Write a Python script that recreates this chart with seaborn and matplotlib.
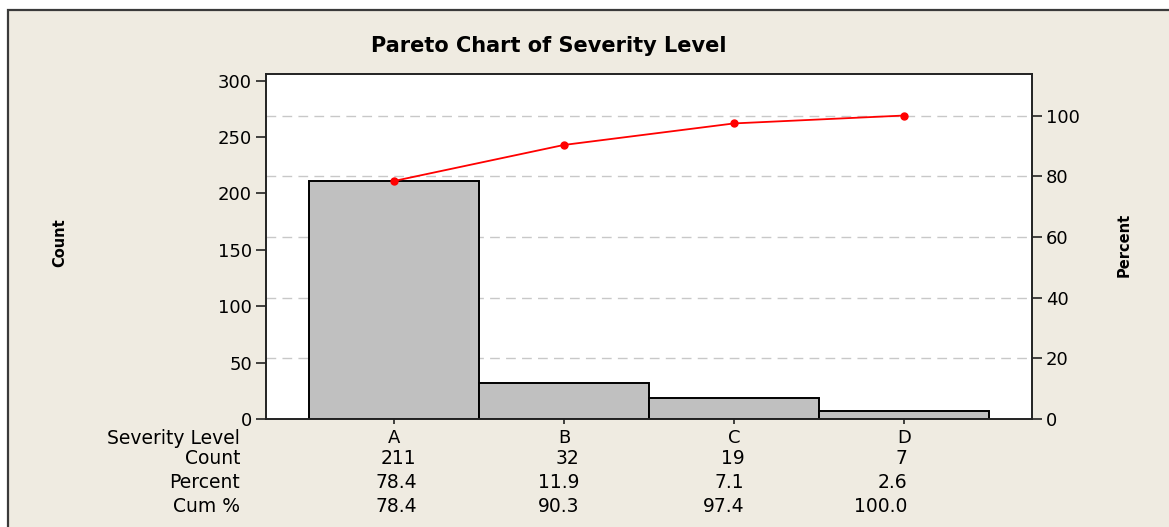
import numpy as np
import pandas as pd
import seaborn as sns
import matplotlib.pyplot as plt
import matplotlib.transforms as mtransforms
from matplotlib.patches import Rectangle

# Chart data
categories = ['A', 'B', 'C', 'D']
counts = [211, 32, 19, 7]
percents = [78.4, 11.9, 7.1, 2.6]
cum_percents = [78.4, 90.3, 97.4, 100.0]
count_ticks = [0, 50, 100, 150, 200, 250, 300]
percent_ticks = [0, 20, 40, 60, 80, 100]
row_labels = ['Severity Level', 'Count', 'Percent', 'Cum %']

BEIGE = '#EFEBE1'
BAR_GREY = '#C0C0C0'

sns.set_theme(style='white')
plt.rcParams['font.family'] = ['DejaVu Sans']
plt.rcParams.update({'text.color': 'black', 'xtick.color': '#222222', 'ytick.color': '#222222',
                     'xtick.labelcolor': 'black', 'ytick.labelcolor': 'black'})

df = pd.DataFrame({'level': categories, 'count': counts})
total = sum(counts)

fig = plt.figure(figsize=(11.69, 5.27), dpi=100)
fig.patch.set_facecolor('white')

# beige panel with dark frame (top/left visible)
fig.patches.append(Rectangle((8 / 1169, -0.05), 1.2, 1.05 - 10 / 527,
                             transform=fig.transFigure, facecolor=BEIGE,
                             edgecolor='#3a3a3a', linewidth=1.6, zorder=-10))

ax = fig.add_axes([266 / 1169, (527 - 419) / 527, (1032 - 266) / 1169, (419 - 74) / 527])
ax.set_facecolor('white')

count_max = 305.8
# dashed grid at the percent levels, behind the bars
for p in percent_ticks[1:]:
    ax.axhline(p / 100 * total, color='#C8C8C8', linestyle=(0, (7, 4.5)), linewidth=1.0, zorder=0)

sns.barplot(data=df, x='level', y='count', color=BAR_GREY, width=1.0,
            edgecolor='black', linewidth=1.4, saturation=1, ax=ax, zorder=2)
ax.set_xlim(-0.75, 3.75)
ax.set_ylim(0, count_max)
ax.set_yticks(count_ticks)
ax.set_xlabel('')
ax.set_ylabel('')
ax.tick_params(axis='y', direction='out', length=7, width=1.2,
               labelsize=13, pad=3, left=True)
ax.tick_params(axis='x', direction='out', length=3.5, width=1.2,
               labelsize=13, pad=4, bottom=True)
for s in ax.spines.values():
    s.set_color('#222222')
    s.set_linewidth(1.4)

# cumulative percent line on the right axis
ax2 = ax.twinx()
ax2.plot(range(len(categories)), cum_percents, color='red', linewidth=1.3,
         marker='o', markersize=5, zorder=5)
ax2.set_ylim(0, count_max / total * 100)
ax2.set_yticks(percent_ticks)
ax2.tick_params(axis='y', direction='out', length=7, width=1.2,
                labelsize=13, pad=3, right=True)
for s in ax2.spines.values():
    s.set_visible(False)
ax2.grid(False)
ax.grid(False)

# title and axis names
fig.text(549 / 1169, 1 - 46 / 527, 'Pareto Chart of Severity Level', ha='center', va='center',
         fontsize=15, fontweight='bold')
fig.text(60 / 1169, 1 - 243 / 527, 'Count', rotation=90, ha='center', va='center',
         fontsize=10.5, fontweight='bold')
fig.text(1124 / 1169, 1 - 245 / 527, 'Percent', rotation=90, ha='center', va='center',
         fontsize=10.5, fontweight='bold')

# table under the chart
trans = mtransforms.blended_transform_factory(ax.transData, fig.transFigure)
row_y = [1 - 438 / 527, 1 - 459 / 527, 1 - 483 / 527, 1 - 506 / 527]
for lab, y in zip(row_labels, row_y):
    fig.text(240 / 1169, y, lab, ha='right', va='center', fontsize=13.5)

value_x = [0.135, 1.09, 2.06, 3.02]
for i in range(len(categories)):
    fig.text(value_x[i], row_y[1], f'{counts[i]}', transform=trans, ha='right', va='center', fontsize=13.5)
    fig.text(value_x[i], row_y[2], f'{percents[i]:.1f}', transform=trans, ha='right', va='center', fontsize=13.5)
    fig.text(value_x[i], row_y[3], f'{cum_percents[i]:.1f}', transform=trans, ha='right', va='center', fontsize=13.5)

fig.savefig('out.png', dpi=100, facecolor=fig.get_facecolor())
